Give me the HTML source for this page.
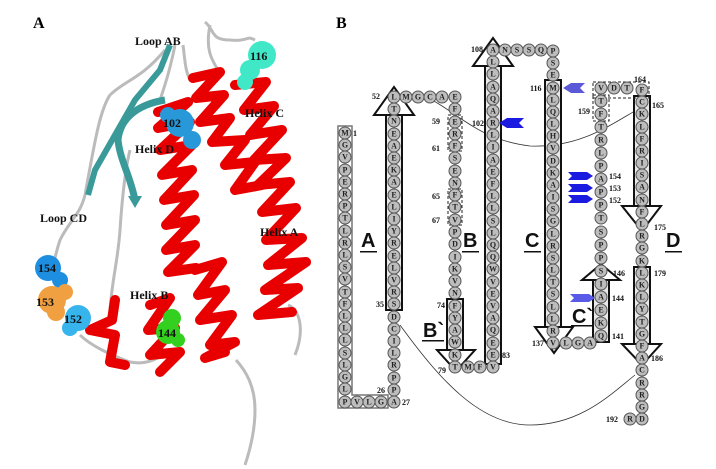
<!DOCTYPE html>
<html><head><meta charset="utf-8"><style>
html,body{margin:0;padding:0;background:#fff}
svg{display:block}
.r circle{fill:#bdbdbd;stroke:#555;stroke-width:1}
.r text{font:bold 8px "Liberation Serif",serif;fill:#222;text-anchor:middle;dominant-baseline:central}
.n{font:bold 8px "Liberation Serif",serif;fill:#111}
.L{font:bold 12px "Liberation Serif",serif;fill:#111}
.H{font:bold 20px "Liberation Sans",sans-serif;fill:#111}
.hx{fill:#e8e8e8;stroke:#111;stroke-width:2}
.ah{fill:#fff;stroke:#111;stroke-width:2}
.red{fill:none;stroke:#e80000;stroke-width:10;stroke-linejoin:round;stroke-linecap:round}
.gr{fill:none;stroke:#bbb;stroke-width:3}
</style></head><body>
<svg width="716" height="469" viewBox="0 0 716 469" xmlns="http://www.w3.org/2000/svg">
<!-- LEFT PANEL -->
<text x="33" y="28" style="font:bold 16px 'Liberation Serif',serif">A</text>
<path class="gr" d="M175 45 C170 70 165 85 160 100 M205 22 C215 30 210 40 230 40 C250 42 245 35 255 40 M183 45 C185 60 185 70 190 80 M210 25 C205 50 212 60 218 70"/>
<path class="gr" d="M165 50 C140 80 125 80 110 95 C100 110 95 140 85 195 C80 215 70 220 60 240 C55 255 55 260 52 270"/>
<path class="gr" d="M80 335 C90 345 110 355 130 362 C145 365 155 360 162 355 M236 360 C245 370 255 385 255 410 C255 430 250 450 245 465 M288 305 C300 310 305 330 295 355 M110 310 C112 280 118 260 120 230 C122 200 125 170 130 150"/>
<path d="M170 45 L160 70 L135 100 L115 135 L95 170 L88 195" fill="none" stroke="#3a9a9a" stroke-width="6"/>
<path d="M165 100 C135 105 120 120 118 140 C120 160 130 175 135 200" fill="none" stroke="#3a9a9a" stroke-width="7"/>
<polygon points="128,196 142,196 135,208" fill="#3a9a9a"/>
<!-- helices -->
<path class="red" d="M158 112 L188 102 L158 128 L190 122 L160 150 L192 145 L162 175 L192 170 L164 200 L194 195 L166 225 L195 220 L166 250 L195 245 L168 272 L196 268"/>
<path class="red" d="M193 78 L220 72 L196 98 L224 95 L200 122 L230 118 L212 142 L245 140 L225 165 L255 162 L235 190 L262 185"/>
<path class="red" d="M235 85 L266 82 L244 110 L274 106 L250 135 L282 130 L254 160 L286 158 L258 185 L290 182 L262 212 L296 208 L266 240 L302 238 L268 265 L306 262 L265 290 L298 288 L258 315 L292 312"/>
<path class="red" d="M195 270 L222 262 L198 295 L225 290 L200 320 L232 315 L210 345 L235 342 L205 358 L225 352"/>
<path class="red" d="M150 305 L170 298 L148 330 L175 328 L150 355 L180 352 L160 372"/>
<path class="red" d="M115 300 L112 320 L90 330 L115 335 L110 362 L125 365"/>
<!-- spheres -->
<g fill="#40e8c8"><circle cx="262" cy="55" r="14"/><circle cx="250" cy="70" r="10"/><circle cx="245" cy="82" r="8"/></g>
<g fill="#2898d8"><circle cx="180" cy="123" r="14"/><circle cx="192" cy="140" r="9"/><circle cx="168" cy="115" r="8"/></g>
<g fill="#1e8ee0"><circle cx="48" cy="268" r="13"/><circle cx="60" cy="280" r="8"/></g>
<g fill="#f0a040"><circle cx="52" cy="300" r="14"/><circle cx="65" cy="292" r="8"/><circle cx="56" cy="312" r="9"/></g>
<g fill="#38b4ec"><circle cx="78" cy="318" r="13"/><circle cx="70" cy="328" r="8"/></g>
<g fill="#34d020"><circle cx="172" cy="318" r="9"/><circle cx="168" cy="332" r="12"/><circle cx="178" cy="340" r="7"/></g>
<text class="L" x="135" y="45">Loop AB</text>
<text class="L" x="250" y="60">116</text>
<text class="L" x="245" y="117">Helix C</text>
<text class="L" x="163" y="127">102</text>
<text class="L" x="135" y="153">Helix D</text>
<text class="L" x="40" y="222">Loop CD</text>
<text class="L" x="260" y="236">Helix A</text>
<text class="L" x="130" y="299">Helix B</text>
<text class="L" x="38" y="272">154</text>
<text class="L" x="36" y="306">153</text>
<text class="L" x="64" y="323">152</text>
<text class="L" x="158" y="337">144</text>

<!-- RIGHT PANEL -->
<text x="336" y="28" style="font:bold 16px 'Liberation Serif',serif">B</text>
<path d="M400 325 C440 380 480 425 530 425 C580 425 610 395 635 375" fill="none" stroke="#333" stroke-width="0.8"/>
<path d="M432 100 C460 115 480 140 530 146 C580 148 610 125 640 108" fill="none" stroke="#333" stroke-width="0.8"/>
<path d="M338 126 H352 V395 H388 V408 H338 Z" fill="none" stroke="#777" stroke-width="1.5"/>
<rect class="hx" x="386" y="112" width="16" height="198"/>
<polygon class="ah" points="394,87 374,115 414,115"/>
<rect class="hx" x="485" y="64" width="16" height="300"/>
<polygon class="ah" points="493,38 473,66 513,66"/>
<rect class="hx" x="447" y="299" width="16" height="52"/>
<polygon class="ah" points="437,350 475,350 456,371"/>
<rect class="hx" x="545" y="80" width="16" height="248"/>
<polygon class="ah" points="535,327 573,327 554,353"/>
<rect class="hx" x="593" y="278" width="16" height="64"/>
<polygon class="ah" points="601,264 582,280 620,280"/>
<rect class="hx" x="634" y="96" width="16" height="110"/>
<polygon class="ah" points="622,206 661,206 642,231"/>
<rect class="hx" x="634" y="267" width="16" height="78"/>
<polygon class="ah" points="622,344 661,344 642,365"/>
<g fill="none" stroke="#222" stroke-width="1" stroke-dasharray="3,2">
<rect x="448" y="115" width="14" height="36"/><rect x="448" y="189" width="14" height="36"/>
<rect x="593" y="82" width="56" height="16"/><rect x="593" y="95" width="16" height="26"/>
</g>
<g fill="#1a1ae0">
<polygon points="499,123 507,118 524,118 519,123 524,128 507,128"/>
<polygon points="563,88 571,83 585,83 580,88 585,93 571,93" fill="#5a5ad8"/>
<polygon points="568,172 587,172 593,176 587,180 568,180 572,176"/>
<polygon points="568,184 587,184 593,188 587,192 568,192 572,188"/>
<polygon points="568,195 587,195 593,199 587,203 568,203 572,199"/>
<polygon points="570,294 589,294 595,298 589,302 570,302 574,298" fill="#5a5ae8"/>
</g>
<g class="r">
<circle cx="345" cy="133" r="6"/><text x="345" y="133">M</text>
<circle cx="345" cy="145" r="6"/><text x="345" y="145">G</text>
<circle cx="345" cy="157" r="6"/><text x="345" y="157">V</text>
<circle cx="345" cy="170" r="6"/><text x="345" y="170">P</text>
<circle cx="345" cy="182" r="6"/><text x="345" y="182">E</text>
<circle cx="345" cy="194" r="6"/><text x="345" y="194">R</text>
<circle cx="345" cy="206" r="6"/><text x="345" y="206">P</text>
<circle cx="345" cy="218" r="6"/><text x="345" y="218">T</text>
<circle cx="345" cy="231" r="6"/><text x="345" y="231">L</text>
<circle cx="345" cy="243" r="6"/><text x="345" y="243">R</text>
<circle cx="345" cy="255" r="6"/><text x="345" y="255">L</text>
<circle cx="345" cy="267" r="6"/><text x="345" y="267">S</text>
<circle cx="345" cy="279" r="6"/><text x="345" y="279">V</text>
<circle cx="345" cy="292" r="6"/><text x="345" y="292">T</text>
<circle cx="345" cy="304" r="6"/><text x="345" y="304">F</text>
<circle cx="345" cy="316" r="6"/><text x="345" y="316">L</text>
<circle cx="345" cy="328" r="6"/><text x="345" y="328">L</text>
<circle cx="345" cy="340" r="6"/><text x="345" y="340">L</text>
<circle cx="345" cy="353" r="6"/><text x="345" y="353">S</text>
<circle cx="345" cy="365" r="6"/><text x="345" y="365">L</text>
<circle cx="345" cy="377" r="6"/><text x="345" y="377">G</text>
<circle cx="345" cy="389" r="6"/><text x="345" y="389">L</text>
<circle cx="345" cy="402" r="6"/><text x="345" y="402">P</text>
<circle cx="357" cy="402" r="6"/><text x="357" y="402">V</text>
<circle cx="369" cy="402" r="6"/><text x="369" y="402">L</text>
<circle cx="381" cy="402" r="6"/><text x="381" y="402">G</text>
<circle cx="394" cy="97" r="6"/><text x="394" y="97">L</text>
<circle cx="394" cy="109" r="6"/><text x="394" y="109">T</text>
<circle cx="394" cy="121" r="6"/><text x="394" y="121">N</text>
<circle cx="394" cy="134" r="6"/><text x="394" y="134">E</text>
<circle cx="394" cy="146" r="6"/><text x="394" y="146">A</text>
<circle cx="394" cy="158" r="6"/><text x="394" y="158">E</text>
<circle cx="394" cy="170" r="6"/><text x="394" y="170">K</text>
<circle cx="394" cy="182" r="6"/><text x="394" y="182">A</text>
<circle cx="394" cy="195" r="6"/><text x="394" y="195">E</text>
<circle cx="394" cy="207" r="6"/><text x="394" y="207">L</text>
<circle cx="394" cy="219" r="6"/><text x="394" y="219">I</text>
<circle cx="394" cy="231" r="6"/><text x="394" y="231">Y</text>
<circle cx="394" cy="243" r="6"/><text x="394" y="243">R</text>
<circle cx="394" cy="256" r="6"/><text x="394" y="256">E</text>
<circle cx="394" cy="268" r="6"/><text x="394" y="268">L</text>
<circle cx="394" cy="280" r="6"/><text x="394" y="280">V</text>
<circle cx="394" cy="292" r="6"/><text x="394" y="292">R</text>
<circle cx="394" cy="304" r="6"/><text x="394" y="304">S</text>
<circle cx="394" cy="317" r="6"/><text x="394" y="317">D</text>
<circle cx="394" cy="329" r="6"/><text x="394" y="329">C</text>
<circle cx="394" cy="341" r="6"/><text x="394" y="341">I</text>
<circle cx="394" cy="353" r="6"/><text x="394" y="353">L</text>
<circle cx="394" cy="365" r="6"/><text x="394" y="365">R</text>
<circle cx="394" cy="378" r="6"/><text x="394" y="378">P</text>
<circle cx="394" cy="390" r="6"/><text x="394" y="390">P</text>
<circle cx="394" cy="402" r="6"/><text x="394" y="402">A</text>
<circle cx="406" cy="97" r="6"/><text x="406" y="97">M</text>
<circle cx="418" cy="97" r="6"/><text x="418" y="97">G</text>
<circle cx="430" cy="97" r="6"/><text x="430" y="97">C</text>
<circle cx="442" cy="97" r="6"/><text x="442" y="97">A</text>
<circle cx="455" cy="97" r="6"/><text x="455" y="97">E</text>
<circle cx="455" cy="109" r="6"/><text x="455" y="109">F</text>
<circle cx="455" cy="122" r="6"/><text x="455" y="122">E</text>
<circle cx="455" cy="134" r="6"/><text x="455" y="134">R</text>
<circle cx="455" cy="146" r="6"/><text x="455" y="146">F</text>
<circle cx="455" cy="158" r="6"/><text x="455" y="158">S</text>
<circle cx="455" cy="171" r="6"/><text x="455" y="171">E</text>
<circle cx="455" cy="183" r="6"/><text x="455" y="183">N</text>
<circle cx="455" cy="195" r="6"/><text x="455" y="195">F</text>
<circle cx="455" cy="207" r="6"/><text x="455" y="207">T</text>
<circle cx="455" cy="220" r="6"/><text x="455" y="220">V</text>
<circle cx="455" cy="232" r="6"/><text x="455" y="232">P</text>
<circle cx="455" cy="244" r="6"/><text x="455" y="244">D</text>
<circle cx="455" cy="257" r="6"/><text x="455" y="257">I</text>
<circle cx="455" cy="269" r="6"/><text x="455" y="269">K</text>
<circle cx="455" cy="281" r="6"/><text x="455" y="281">V</text>
<circle cx="455" cy="293" r="6"/><text x="455" y="293">N</text>
<circle cx="455" cy="306" r="6"/><text x="455" y="306">F</text>
<circle cx="455" cy="318" r="6"/><text x="455" y="318">Y</text>
<circle cx="455" cy="330" r="6"/><text x="455" y="330">A</text>
<circle cx="455" cy="342" r="6"/><text x="455" y="342">W</text>
<circle cx="455" cy="355" r="6"/><text x="455" y="355">K</text>
<circle cx="455" cy="367" r="6"/><text x="455" y="367">T</text>
<circle cx="468" cy="367" r="6"/><text x="468" y="367">M</text>
<circle cx="480" cy="367" r="6"/><text x="480" y="367">F</text>
<circle cx="493" cy="50" r="6"/><text x="493" y="50">A</text>
<circle cx="493" cy="62" r="6"/><text x="493" y="62">L</text>
<circle cx="493" cy="74" r="6"/><text x="493" y="74">L</text>
<circle cx="493" cy="87" r="6"/><text x="493" y="87">A</text>
<circle cx="493" cy="99" r="6"/><text x="493" y="99">Q</text>
<circle cx="493" cy="111" r="6"/><text x="493" y="111">A</text>
<circle cx="493" cy="123" r="6"/><text x="493" y="123">R</text>
<circle cx="493" cy="135" r="6"/><text x="493" y="135">L</text>
<circle cx="493" cy="147" r="6"/><text x="493" y="147">I</text>
<circle cx="493" cy="160" r="6"/><text x="493" y="160">A</text>
<circle cx="493" cy="172" r="6"/><text x="493" y="172">E</text>
<circle cx="493" cy="184" r="6"/><text x="493" y="184">F</text>
<circle cx="493" cy="196" r="6"/><text x="493" y="196">L</text>
<circle cx="493" cy="208" r="6"/><text x="493" y="208">L</text>
<circle cx="493" cy="221" r="6"/><text x="493" y="221">S</text>
<circle cx="493" cy="233" r="6"/><text x="493" y="233">L</text>
<circle cx="493" cy="245" r="6"/><text x="493" y="245">Q</text>
<circle cx="493" cy="257" r="6"/><text x="493" y="257">Q</text>
<circle cx="493" cy="269" r="6"/><text x="493" y="269">W</text>
<circle cx="493" cy="282" r="6"/><text x="493" y="282">V</text>
<circle cx="493" cy="294" r="6"/><text x="493" y="294">E</text>
<circle cx="493" cy="306" r="6"/><text x="493" y="306">V</text>
<circle cx="493" cy="318" r="6"/><text x="493" y="318">A</text>
<circle cx="493" cy="330" r="6"/><text x="493" y="330">Q</text>
<circle cx="493" cy="343" r="6"/><text x="493" y="343">E</text>
<circle cx="493" cy="355" r="6"/><text x="493" y="355">E</text>
<circle cx="493" cy="367" r="6"/><text x="493" y="367">V</text>
<circle cx="505" cy="50" r="6"/><text x="505" y="50">N</text>
<circle cx="517" cy="50" r="6"/><text x="517" y="50">S</text>
<circle cx="529" cy="50" r="6"/><text x="529" y="50">S</text>
<circle cx="541" cy="50" r="6"/><text x="541" y="50">Q</text>
<circle cx="553" cy="51" r="6"/><text x="553" y="51">P</text>
<circle cx="553" cy="63" r="6"/><text x="553" y="63">S</text>
<circle cx="553" cy="75" r="6"/><text x="553" y="75">E</text>
<circle cx="553" cy="88" r="6"/><text x="553" y="88">M</text>
<circle cx="553" cy="100" r="6"/><text x="553" y="100">L</text>
<circle cx="553" cy="112" r="6"/><text x="553" y="112">Q</text>
<circle cx="553" cy="124" r="6"/><text x="553" y="124">L</text>
<circle cx="553" cy="136" r="6"/><text x="553" y="136">H</text>
<circle cx="553" cy="148" r="6"/><text x="553" y="148">V</text>
<circle cx="553" cy="161" r="6"/><text x="553" y="161">D</text>
<circle cx="553" cy="173" r="6"/><text x="553" y="173">K</text>
<circle cx="553" cy="185" r="6"/><text x="553" y="185">A</text>
<circle cx="553" cy="197" r="6"/><text x="553" y="197">I</text>
<circle cx="553" cy="209" r="6"/><text x="553" y="209">S</text>
<circle cx="553" cy="221" r="6"/><text x="553" y="221">G</text>
<circle cx="553" cy="234" r="6"/><text x="553" y="234">L</text>
<circle cx="553" cy="246" r="6"/><text x="553" y="246">R</text>
<circle cx="553" cy="258" r="6"/><text x="553" y="258">S</text>
<circle cx="553" cy="270" r="6"/><text x="553" y="270">L</text>
<circle cx="553" cy="282" r="6"/><text x="553" y="282">T</text>
<circle cx="553" cy="294" r="6"/><text x="553" y="294">S</text>
<circle cx="553" cy="307" r="6"/><text x="553" y="307">L</text>
<circle cx="553" cy="319" r="6"/><text x="553" y="319">L</text>
<circle cx="553" cy="331" r="6"/><text x="553" y="331">R</text>
<circle cx="553" cy="343" r="6"/><text x="553" y="343">V</text>
<circle cx="566" cy="343" r="6"/><text x="566" y="343">L</text>
<circle cx="578" cy="343" r="6"/><text x="578" y="343">G</text>
<circle cx="590" cy="343" r="6"/><text x="590" y="343">A</text>
<circle cx="601" cy="88" r="6"/><text x="601" y="88">V</text>
<circle cx="601" cy="101" r="6"/><text x="601" y="101">T</text>
<circle cx="601" cy="114" r="6"/><text x="601" y="114">F</text>
<circle cx="601" cy="127" r="6"/><text x="601" y="127">T</text>
<circle cx="601" cy="140" r="6"/><text x="601" y="140">R</text>
<circle cx="601" cy="153" r="6"/><text x="601" y="153">L</text>
<circle cx="601" cy="166" r="6"/><text x="601" y="166">P</text>
<circle cx="601" cy="179" r="6"/><text x="601" y="179">A</text>
<circle cx="601" cy="192" r="6"/><text x="601" y="192">P</text>
<circle cx="601" cy="205" r="6"/><text x="601" y="205">P</text>
<circle cx="601" cy="218" r="6"/><text x="601" y="218">T</text>
<circle cx="601" cy="232" r="6"/><text x="601" y="232">S</text>
<circle cx="601" cy="245" r="6"/><text x="601" y="245">P</text>
<circle cx="601" cy="258" r="6"/><text x="601" y="258">P</text>
<circle cx="601" cy="271" r="6"/><text x="601" y="271">S</text>
<circle cx="601" cy="284" r="6"/><text x="601" y="284">I</text>
<circle cx="601" cy="297" r="6"/><text x="601" y="297">A</text>
<circle cx="601" cy="310" r="6"/><text x="601" y="310">E</text>
<circle cx="601" cy="323" r="6"/><text x="601" y="323">K</text>
<circle cx="601" cy="336" r="6"/><text x="601" y="336">Q</text>
<circle cx="614" cy="88" r="6"/><text x="614" y="88">D</text>
<circle cx="627" cy="88" r="6"/><text x="627" y="88">T</text>
<circle cx="642" cy="90" r="6"/><text x="642" y="90">F</text>
<circle cx="642" cy="102" r="6"/><text x="642" y="102">C</text>
<circle cx="642" cy="114" r="6"/><text x="642" y="114">K</text>
<circle cx="642" cy="127" r="6"/><text x="642" y="127">L</text>
<circle cx="642" cy="139" r="6"/><text x="642" y="139">F</text>
<circle cx="642" cy="151" r="6"/><text x="642" y="151">R</text>
<circle cx="642" cy="163" r="6"/><text x="642" y="163">I</text>
<circle cx="642" cy="175" r="6"/><text x="642" y="175">S</text>
<circle cx="642" cy="187" r="6"/><text x="642" y="187">A</text>
<circle cx="642" cy="200" r="6"/><text x="642" y="200">N</text>
<circle cx="642" cy="212" r="6"/><text x="642" y="212">F</text>
<circle cx="642" cy="224" r="6"/><text x="642" y="224">L</text>
<circle cx="642" cy="236" r="6"/><text x="642" y="236">R</text>
<circle cx="642" cy="248" r="6"/><text x="642" y="248">G</text>
<circle cx="642" cy="261" r="6"/><text x="642" y="261">K</text>
<circle cx="642" cy="273" r="6"/><text x="642" y="273">L</text>
<circle cx="642" cy="285" r="6"/><text x="642" y="285">K</text>
<circle cx="642" cy="297" r="6"/><text x="642" y="297">L</text>
<circle cx="642" cy="309" r="6"/><text x="642" y="309">Y</text>
<circle cx="642" cy="322" r="6"/><text x="642" y="322">T</text>
<circle cx="642" cy="334" r="6"/><text x="642" y="334">G</text>
<circle cx="642" cy="346" r="6"/><text x="642" y="346">F</text>
<circle cx="642" cy="358" r="6"/><text x="642" y="358">A</text>
<circle cx="642" cy="370" r="6"/><text x="642" y="370">C</text>
<circle cx="642" cy="383" r="6"/><text x="642" y="383">R</text>
<circle cx="642" cy="395" r="6"/><text x="642" y="395">R</text>
<circle cx="642" cy="407" r="6"/><text x="642" y="407">G</text>
<circle cx="642" cy="419" r="6"/><text x="642" y="419">D</text>
<circle cx="630" cy="419" r="6"/><text x="630" y="419">R</text>
</g>
<text class="n" x="353" y="136">1</text>
<text class="n" x="372" y="99">52</text>
<text class="n" x="471" y="52">108</text>
<text class="n" x="472" y="126">102</text>
<text class="n" x="432" y="124">59</text>
<text class="n" x="432" y="151">61</text>
<text class="n" x="432" y="199">65</text>
<text class="n" x="432" y="223">67</text>
<text class="n" x="530" y="91">116</text>
<text class="n" x="578" y="114">159</text>
<text class="n" x="634" y="82">164</text>
<text class="n" x="652" y="108">165</text>
<text class="n" x="609" y="179">154</text>
<text class="n" x="609" y="191">153</text>
<text class="n" x="609" y="203">152</text>
<text class="n" x="654" y="230">175</text>
<text class="n" x="654" y="276">179</text>
<text class="n" x="613" y="276">146</text>
<text class="n" x="612" y="301">144</text>
<text class="n" x="612" y="339">141</text>
<text class="n" x="532" y="346">137</text>
<text class="n" x="651" y="361">186</text>
<text class="n" x="606" y="422">192</text>
<text class="n" x="437" y="308">74</text>
<text class="n" x="438" y="373">79</text>
<text class="n" x="502" y="358">83</text>
<text class="n" x="376" y="307">35</text>
<text class="n" x="377" y="393">26</text>
<text class="n" x="402" y="405">27</text>
<text class="H" x="361" y="247">A</text><rect x="360" y="251" width="17" height="1.5" fill="#111"/>
<text class="H" x="463" y="247">B</text><rect x="462" y="251" width="17" height="1.5" fill="#111"/>
<text class="H" x="525" y="247">C</text><rect x="524" y="251" width="17" height="1.5" fill="#111"/>
<text class="H" x="666" y="247">D</text><rect x="665" y="251" width="17" height="1.5" fill="#111"/>
<text class="H" x="423" y="337">B`</text><rect x="422" y="340" width="22" height="1.5" fill="#111"/>
<text class="H" x="572" y="323">C`</text><rect x="571" y="325" width="22" height="1.5" fill="#111"/>
</svg>
</body></html>
